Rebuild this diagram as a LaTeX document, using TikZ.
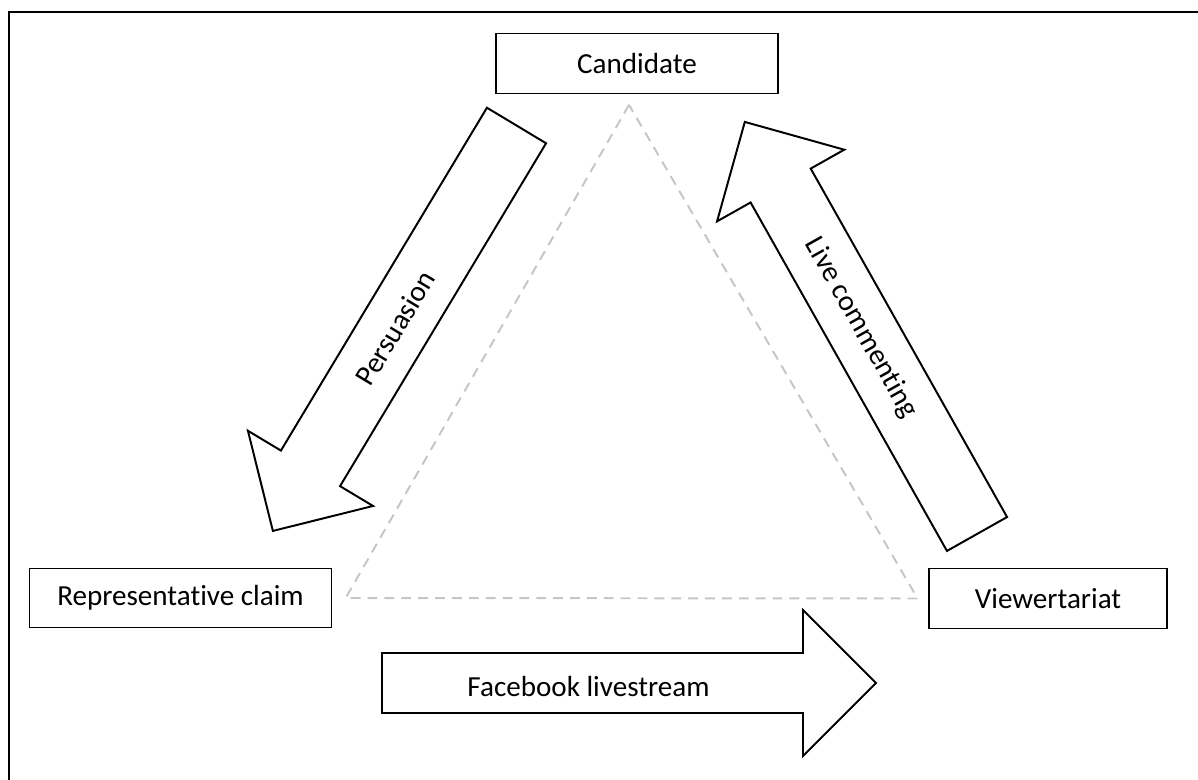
\documentclass[tikz,border=0pt]{standalone}
\usepackage{fontspec}
\setmainfont{Carlito}[Ligatures=NoCommon]
\usetikzlibrary{positioning,calc}
% block arrow: tail centre, angle, length, half shaft width
\newcommand{\blockarrow}[4]{%
	\begin{scope}[shift={#1}, rotate=#2]
		\draw[barrow] (0,-#4) -- ({#3-73},-#4) -- ({#3-73},-73) -- (#3,0) -- ({#3-73},73) -- ({#3-73},#4) -- (0,#4) -- cycle;
	\end{scope}}

\begin{document}
\begin{tikzpicture}[x=0.025cm, y=-0.025cm, font=\fontsize{20.7}{25}\selectfont,
	box/.style={draw, line width=0.8pt, minimum height=1.48cm, inner sep=0pt},
	barrow/.style={line width=1.4pt, fill=white},
	tri/.style={draw=gray!45, line width=1.4pt, dash pattern=on 7pt off 5pt}]
	\useasboundingbox (0,0) rectangle (1198,780);
	%frame
	\draw[line width=1.6pt] (9,790) -- (9,12) -- (1210,12);
	%boxes
	\node(cand)[box, minimum width=7.05cm] at (637,63.5) {Candidate};
	\node(claim)[box, minimum width=7.53cm] at (180.5,598) {Representative claim};
	\node(view)[box, minimum width=5.95cm] at (1048,598.5) {Viewertariat};
	%dashed triangle
	\coordinate (ta) at ([xshift=-0.2cm,yshift=-0.28cm]cand.south);
	\coordinate (tl) at ([xshift=0.35cm]claim.east);
	\coordinate (tr) at ([xshift=-0.27cm]view.west);
	\draw[tri] (ta) -- (tl) -- (tr) -- cycle;
	%arrows
	\blockarrow{(516.5,125.5)}{239}{473}{34.5}
	\blockarrow{(977,534)}{119.4}{473}{34.5}
	\blockarrow{(382,683)}{0}{494}{30}
	\node(persuasion)[rotate=59] at (395,328) {Persuasion};
	\node(commenting)[rotate=-60.6] at (861,328) {Live commenting};
	\node(livestream) at (588.5,686) {Facebook livestream};
\end{tikzpicture}
\end{document}
